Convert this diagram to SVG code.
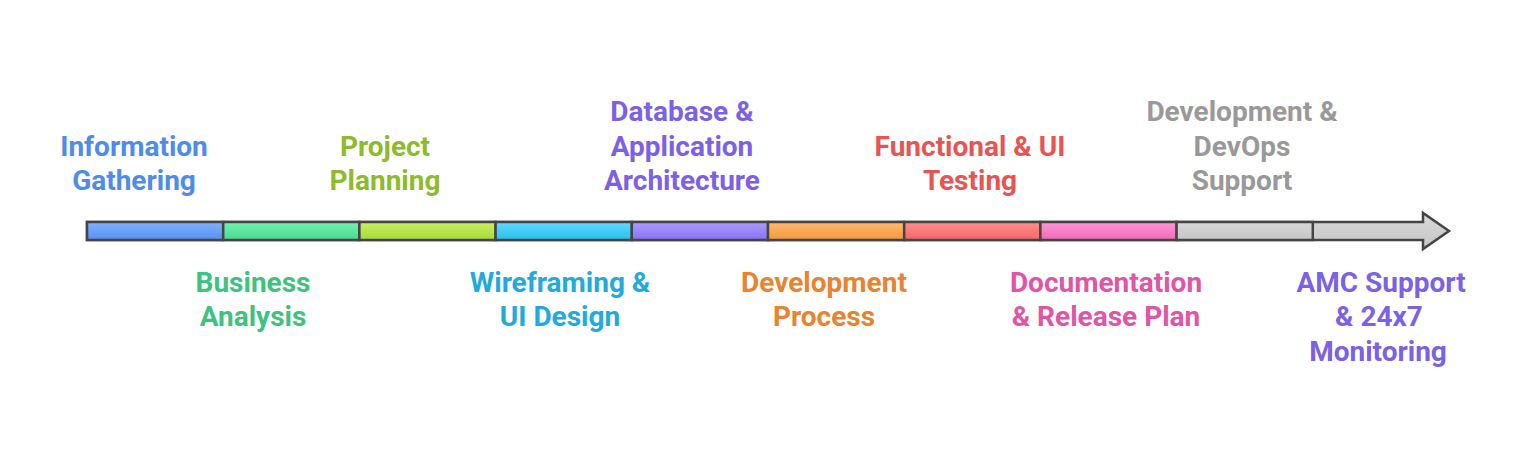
<svg xmlns="http://www.w3.org/2000/svg" width="1536" height="467" viewBox="0 0 1536 467">
<style>
text{font-family:Roboto,"Liberation Sans",sans-serif;font-weight:700;font-size:28px;text-anchor:middle}
.seg{stroke:#454545;stroke-width:2.5}
.blue{fill:#4F8BE8}.green{fill:#3EC27F}.olive{fill:#8DBB2C}.cyan{fill:#22A9DE}.purple{fill:#7B61E8}.orange{fill:#E8832F}.red{fill:#E65454}.pink{fill:#E055A5}.gray{fill:#999999}
</style>
<defs>
<linearGradient id="gBlue" x1="0" y1="0" x2="0" y2="1"><stop offset="0" stop-color="#82B2FF"/><stop offset="1" stop-color="#5590F2"/></linearGradient>
<linearGradient id="gGreen" x1="0" y1="0" x2="0" y2="1"><stop offset="0" stop-color="#72F2B2"/><stop offset="1" stop-color="#48DA8E"/></linearGradient>
<linearGradient id="gOlive" x1="0" y1="0" x2="0" y2="1"><stop offset="0" stop-color="#C8F060"/><stop offset="1" stop-color="#A6DA38"/></linearGradient>
<linearGradient id="gCyan" x1="0" y1="0" x2="0" y2="1"><stop offset="0" stop-color="#62DAFF"/><stop offset="1" stop-color="#26BEEE"/></linearGradient>
<linearGradient id="gPurple" x1="0" y1="0" x2="0" y2="1"><stop offset="0" stop-color="#AC9CFF"/><stop offset="1" stop-color="#8A70F6"/></linearGradient>
<linearGradient id="gOrange" x1="0" y1="0" x2="0" y2="1"><stop offset="0" stop-color="#FFBA72"/><stop offset="1" stop-color="#F5983A"/></linearGradient>
<linearGradient id="gRed" x1="0" y1="0" x2="0" y2="1"><stop offset="0" stop-color="#FF9090"/><stop offset="1" stop-color="#F56464"/></linearGradient>
<linearGradient id="gPink" x1="0" y1="0" x2="0" y2="1"><stop offset="0" stop-color="#FF96D4"/><stop offset="1" stop-color="#F06ABA"/></linearGradient>
<linearGradient id="gGray" x1="0" y1="0" x2="0" y2="1"><stop offset="0" stop-color="#D8D8D8"/><stop offset="1" stop-color="#C6C6C6"/></linearGradient>
</defs>
<rect width="1536" height="467" fill="#ffffff"/>
<g id="connectors">
<path d="M87,222 H1423 V213 L1449,231 L1423,249 V240 H87 Z" fill="url(#gGray)" stroke="#454545" stroke-width="2.5" stroke-linejoin="miter"/>
</g>
<g id="n1"><rect class="seg" x="87" y="222" width="136.2" height="18" fill="url(#gBlue)"/>
<text class="blue" x="134" y="156">Information</text><text class="blue" x="134" y="190">Gathering</text></g>
<g id="n2"><rect class="seg" x="223.2" y="222" width="136.2" height="18" fill="url(#gGreen)"/>
<text class="green" x="253" y="292">Business</text><text class="green" x="253" y="326">Analysis</text></g>
<g id="n3"><rect class="seg" x="359.4" y="222" width="136.2" height="18" fill="url(#gOlive)"/>
<text class="olive" x="385" y="156">Project</text><text class="olive" x="385" y="190">Planning</text></g>
<g id="n4"><rect class="seg" x="495.6" y="222" width="136.2" height="18" fill="url(#gCyan)"/>
<text class="cyan" x="560" y="292">Wireframing &amp;</text><text class="cyan" x="560" y="326">UI Design</text></g>
<g id="n5"><rect class="seg" x="631.8" y="222" width="136.2" height="18" fill="url(#gPurple)"/>
<text class="purple" x="682" y="121">Database &amp;</text><text class="purple" x="682" y="156">Application</text><text class="purple" x="682" y="190">Architecture</text></g>
<g id="n6"><rect class="seg" x="768" y="222" width="136.2" height="18" fill="url(#gOrange)"/>
<text class="orange" x="824" y="292">Development</text><text class="orange" x="824" y="326">Process</text></g>
<g id="n7"><rect class="seg" x="904.2" y="222" width="136.2" height="18" fill="url(#gRed)"/>
<text class="red" x="970" y="156">Functional &amp; UI</text><text class="red" x="970" y="190">Testing</text></g>
<g id="n8"><rect class="seg" x="1040.4" y="222" width="136.2" height="18" fill="url(#gPink)"/>
<text class="pink" x="1106" y="292">Documentation</text><text class="pink" x="1106" y="326">&amp; Release Plan</text></g>
<g id="n9"><rect class="seg" x="1176.6" y="222" width="136.2" height="18" fill="url(#gGray)"/>
<text class="gray" x="1242" y="121">Development &amp;</text><text class="gray" x="1242" y="156">DevOps</text><text class="gray" x="1242" y="190">Support</text></g>
<g id="n10">
<text class="purple" x="1381" y="292">AMC Support</text><text class="purple" x="1379" y="326">&amp; 24x7</text><text class="purple" x="1378" y="361">Monitoring</text></g>
</svg>
